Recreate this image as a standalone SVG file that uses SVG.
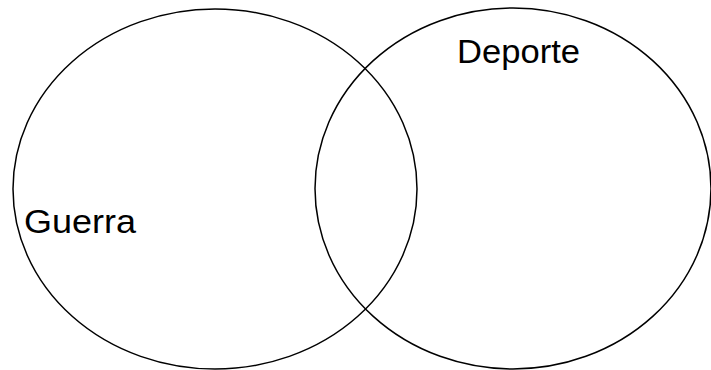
<svg xmlns="http://www.w3.org/2000/svg" width="711" height="370" viewBox="0 0 711 370">
<style>
.set{fill:none;stroke:#000;stroke-width:1.5}
.lbl{font-family:"Liberation Sans",Arial,sans-serif;font-size:34px;fill:#000}
</style>
<rect width="711" height="370" fill="#fff"/>
<g id="guerra">
<ellipse class="set" cx="215" cy="189" rx="202" ry="180"/>
<text class="lbl" x="24" y="233" textLength="112" lengthAdjust="spacingAndGlyphs">Guerra</text>
</g>
<g id="deporte">
<ellipse class="set" cx="513" cy="188.5" rx="198" ry="180.5"/>
<text class="lbl" x="457" y="63" textLength="123" lengthAdjust="spacingAndGlyphs">Deporte</text>
</g>
<g id="connectors"></g>
</svg>
